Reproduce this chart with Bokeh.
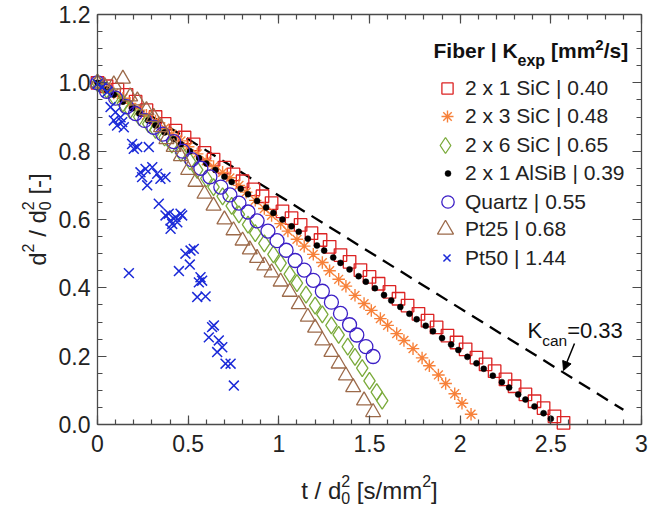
import math
from bokeh.plotting import figure
from bokeh.models import (Range1d, FixedTicker, LinearAxis, Label, Legend,
                          LegendItem, Arrow, NormalHead)
from bokeh.embed import file_html
from bokeh.resources import INLINE

# ---------------- data ----------------
sic1_t = [0.00,0.05,0.11,0.16,0.21,0.27,0.32,0.37,0.43,0.48,0.53,0.59,0.64,0.70,0.75,0.80,0.86,0.91,0.96,1.02,
          1.07,1.12,1.18,1.23,1.28,1.34,1.39,1.45,1.50,1.55,1.61,1.66,1.71,1.77,1.82,1.87,1.93,1.98,2.03,2.09,
          2.14,2.19,2.25,2.30,2.36,2.41,2.46,2.52,2.57]
sic1_d = [1.00,0.99,0.98,0.965,0.945,0.92,0.90,0.88,0.86,0.84,0.82,0.795,0.775,0.752,0.732,0.712,0.688,0.668,0.648,0.624,
          0.604,0.584,0.560,0.540,0.520,0.496,0.476,0.452,0.432,0.412,0.388,0.368,0.348,0.324,0.304,0.284,0.260,0.240,0.220,0.196,
          0.176,0.156,0.132,0.112,0.088,0.068,0.048,0.024,0.005]

sic3_t = [0.00,0.05,0.09,0.14,0.18,0.23,0.27,0.32,0.37,0.41,0.46,0.50,0.55,0.60,0.64,0.69,0.73,0.78,0.82,0.87,
          0.92,0.96,1.01,1.05,1.10,1.14,1.19,1.24,1.28,1.33,1.37,1.42,1.47,1.51,1.56,1.60,1.65,1.69,1.74,1.79,
          1.83,1.88,1.92,1.97,2.01,2.06]
sic3_d = [1.00,0.985,0.97,0.955,0.94,0.92,0.905,0.888,0.867,0.85,0.83,0.813,0.792,0.772,0.755,0.738,0.722,0.70,0.68,0.656,
          0.632,0.612,0.588,0.566,0.542,0.522,0.498,0.474,0.45,0.425,0.405,0.378,0.354,0.334,0.31,0.29,0.266,0.246,0.222,0.195,
          0.172,0.145,0.12,0.09,0.062,0.03]

sic6_t = [0.00,0.05,0.09,0.14,0.18,0.23,0.28,0.32,0.37,0.41,0.46,0.51,0.55,0.60,0.64,0.69,0.74,0.78,0.83,0.87,
          0.92,0.97,1.01,1.06,1.10,1.15,1.20,1.24,1.29,1.33,1.38,1.42,1.46,1.50,1.54,1.57]
sic6_d = [1.00,0.98,0.96,0.94,0.92,0.90,0.88,0.862,0.84,0.82,0.795,0.77,0.745,0.72,0.695,0.668,0.64,0.615,0.585,0.56,
          0.53,0.498,0.472,0.44,0.414,0.38,0.348,0.322,0.29,0.262,0.228,0.198,0.165,0.128,0.095,0.07]

alsib_t = [0.00,0.05,0.09,0.14,0.19,0.23,0.28,0.32,0.37,0.42,0.46,0.51,0.56,0.60,0.65,0.70,0.74,0.79,0.83,0.88,
           0.93,0.97,1.02,1.07,1.11,1.16,1.21,1.25,1.30,1.34,1.39,1.44,1.48,1.53,1.58,1.62,1.67,1.72,1.76,1.81,
           1.85,1.90,1.95,1.99,2.04,2.09,2.13,2.18,2.23,2.27,2.32,2.36,2.41,2.46,2.50]
alsib_d = [1.00,0.98,0.965,0.945,0.925,0.91,0.89,0.875,0.855,0.835,0.82,0.80,0.78,0.764,0.745,0.725,0.71,0.69,0.674,0.654,
           0.635,0.619,0.60,0.58,0.564,0.544,0.524,0.509,0.489,0.473,0.454,0.434,0.418,0.399,0.379,0.363,0.344,0.324,0.308,0.289,
           0.273,0.253,0.234,0.218,0.198,0.179,0.163,0.143,0.124,0.108,0.088,0.073,0.053,0.033,0.017]

quartz_t = [0.00,0.05,0.10,0.16,0.21,0.26,0.31,0.36,0.42,0.47,0.52,0.57,0.62,0.68,0.73,0.78,0.83,0.88,0.94,0.99,
            1.04,1.09,1.14,1.19,1.24,1.29,1.34,1.39,1.43,1.48,1.52]
quartz_d = [1.00,0.975,0.955,0.93,0.91,0.89,0.87,0.85,0.828,0.80,0.775,0.75,0.725,0.695,0.672,0.648,0.622,0.596,0.566,0.538,
            0.51,0.48,0.452,0.422,0.39,0.358,0.325,0.292,0.262,0.228,0.199]

pt25_t = [0.00,0.04,0.09,0.14,0.18,0.22,0.27,0.31,0.35,0.38,0.42,0.46,0.50,0.54,0.59,0.64,0.70,0.75,0.80,0.84,
          0.88,0.92,0.96,1.01,1.06,1.11,1.16,1.20,1.24,1.29,1.33,1.37,1.41,1.47,1.52]
pt25_d = [1.00,0.99,0.995,1.012,0.96,0.948,0.92,0.90,0.87,0.835,0.812,0.785,0.745,0.71,0.675,0.64,0.60,0.568,0.538,0.512,
          0.487,0.465,0.445,0.418,0.388,0.352,0.315,0.283,0.246,0.212,0.178,0.143,0.109,0.07,0.036]

pt50_t = [0.00,0.026,0.053,0.072,0.099,0.127,0.09,0.136,0.108,0.145,0.191,0.219,0.20,0.283,0.237,0.265,0.302,0.246,0.329,0.347,
          0.274,0.375,0.338,0.393,0.43,0.458,0.412,0.44,0.375,0.403,0.467,0.403,0.173,0.485,0.513,0.531,0.449,0.509,0.568,0.577,
          0.559,0.55,0.596,0.642,0.632,0.614,0.669,0.688,0.66,0.706,0.734,0.752]
pt50_d = [0.997,0.987,0.973,0.929,0.914,0.899,0.89,0.885,0.875,0.87,0.821,0.812,0.807,0.812,0.738,0.748,0.753,0.724,0.734,0.719,
          0.70,0.724,0.646,0.617,0.607,0.617,0.587,0.592,0.612,0.597,0.612,0.573,0.443,0.50,0.509,0.514,0.449,0.468,0.431,0.421,
          0.416,0.373,0.375,0.29,0.285,0.255,0.246,0.226,0.212,0.178,0.178,0.114]

kcan_t = [0.0, 2.9]
kcan_d = [1.0, 0.043]

series_labels = ["2 x 1 SiC | 0.40", "2 x 3 SiC | 0.48", "2 x 6 SiC | 0.65", "2 x 1 AlSiB | 0.39",
                 "Quartz | 0.55", "Pt25 | 0.68", "Pt50 | 1.44"]
x_ticks = [0, 0.5, 1, 1.5, 2, 2.5, 3]
x_tick_labels = ["0", "0.5", "1", "1.5", "2", "2.5", "3"]
y_ticks = [0, 0.2, 0.4, 0.6, 0.8, 1.0, 1.2]
y_tick_labels = ["0.0", "0.2", "0.4", "0.6", "0.8", "1.0", "1.2"]
x_minor = [i / 10 for i in range(31)]
y_minor = [i / 20 for i in range(25)]

# ---------------- layout ----------------
FONT = "Liberation Sans"
AX = "#4a4a4a"
TXT = "#222222"
W, H = 648, 509
FL, FR, FT, FB = 97, 641, 14, 424   # axes box in canvas pixels
X0, X1, Y0, Y1 = 0.0, 3.0, 0.0, 1.2

def dx(px):
    return X0 + (px - FL) / (FR - FL) * (X1 - X0)

def dy(py):
    return Y0 + (FB - py) / (FB - FT) * (Y1 - Y0)

# the frame spans the whole canvas; the visible box is drawn by axes at fixed locations
p = figure(width=W, height=H, x_range=Range1d(dx(0), dx(W)), y_range=Range1d(dy(H), dy(0)),
           output_backend="svg", toolbar_location=None,
           min_border_left=0, min_border_right=0, min_border_top=0, min_border_bottom=0)
p.grid.visible = False
p.outline_line_color = None
p.background_fill_color = "white"
p.border_fill_color = "white"

def style_axis(ax, ticks, minor, labels, show, loc, bounds):
    ax.fixed_location = loc
    ax.bounds = bounds
    ax.ticker = FixedTicker(ticks=ticks, minor_ticks=minor)
    ax.axis_line_color = AX
    ax.axis_line_width = 1.3
    ax.major_tick_in = 9
    ax.major_tick_out = 0
    ax.minor_tick_in = 5
    ax.minor_tick_out = 0
    ax.major_tick_line_color = AX
    ax.minor_tick_line_color = AX
    ax.major_tick_line_width = 1.2
    ax.minor_tick_line_width = 1.2
    ax.major_label_text_font = FONT
    ax.major_label_text_font_size = "23px"
    ax.major_label_text_color = TXT
    if show:
        ax.major_label_overrides = {t: l for t, l in zip(ticks, labels)}
    else:
        ax.major_label_overrides = {t: "" for t in ticks}

style_axis(p.xaxis[0], x_ticks, x_minor, x_tick_labels, True, Y0, (X0, X1))
style_axis(p.yaxis[0], y_ticks, y_minor, y_tick_labels, True, X0, (Y0, Y1))
p.xaxis[0].major_label_standoff = 10
p.yaxis[0].major_label_standoff = 7
top_ax = LinearAxis()
right_ax = LinearAxis()
style_axis(top_ax, x_ticks, x_minor, x_tick_labels, False, Y1, (X0, X1))
style_axis(right_ax, y_ticks, y_minor, y_tick_labels, False, X1, (Y0, Y1))
p.add_layout(top_ax, "above")
p.add_layout(right_ax, "right")

# ---------------- data glyphs ----------------
p.line(kcan_t, kcan_d, line_color="black", line_width=2.3, line_dash="13 8")

r_sic1 = p.scatter(sic1_t, sic1_d, marker="square", size=12.5, fill_color=None,
                   line_color="#dc2323", line_width=1.3)
r_sic3 = p.scatter(sic3_t, sic3_d, marker="asterisk", size=12.5,
                   line_color="#f7813a", line_width=1.4)
r_sic6 = p.scatter(sic6_t, sic6_d, marker="diamond", size=17, fill_color=None,
                   line_color="#7aaa3a", line_width=1.3)
r_alsib = p.scatter(alsib_t, alsib_d, marker="circle", size=6, fill_color="black",
                    line_color="black", line_width=0.5)
r_quartz = p.scatter(quartz_t, quartz_d, marker="circle", size=14, fill_color=None,
                     line_color="#3c1fc6", line_width=1.3)
r_pt25 = p.scatter(pt25_t, pt25_d, marker="triangle", size=15, fill_color=None,
                   line_color="#9c6a4a", line_width=1.3)
r_pt50 = p.scatter(pt50_t, pt50_d, marker="x", size=14, line_color="#1b2ad8", line_width=1.5)

# ---------------- legend (one per row so marker sizes can differ) ----------------
renderers = [r_sic1, r_sic3, r_sic6, r_alsib, r_quartz, r_pt25, r_pt50]
legend_glyph = [(28, 28), (30, 30), (40, 40), (15, 24), (31, 31), (40, 40), (25, 25)]
row_y = [88.3, 116.5, 144.5, 172.5, 201.0, 229.0, 257.3]
GLYPH_CX, LABEL_X, FONT_H = 447, 465, 24
for r, lab, (gw, gh), ry in zip(renderers, series_labels, legend_glyph, row_y):
    h = max(gh, FONT_H)
    cx = min(GLYPH_CX, LABEL_X - gw / 2)
    bottom = ry + h / 2
    leg = Legend(items=[LegendItem(label=lab, renderers=[r])],
                 location=(round(cx - gw / 2), round(H - bottom)),
                 glyph_width=gw, glyph_height=gh, label_height=gh,
                 label_standoff=max(0, round(LABEL_X - (cx + gw / 2))),
                 label_text_font=FONT, label_text_font_size="21px", label_text_color=TXT,
                 padding=0, margin=0, spacing=0, border_line_color=None,
                 background_fill_alpha=0)
    p.add_layout(leg)

# ---------------- rich texts (super/subscripts as separate text pieces) ----------------
REG = {' ': 278, '/': 278, 't': 278, 'd': 556, '0': 556, '2': 556, '[': 278, ']': 278, 's': 500,
       'm': 833, '-': 333, 'K': 667, 'c': 500, 'a': 556, 'n': 556, '=': 584, '.': 278, '3': 556}
BOLD = {'F': 611, 'i': 278, 'b': 611, 'e': 556, 'r': 389, ' ': 278, '|': 280, 'K': 722, 'x': 556,
        'p': 611, '[': 333, 'm': 889, '2': 556, '/': 278, 's': 556, ']': 333}

def text_width(s, size, bold):
    tab = BOLD if bold else REG
    return sum(tab.get(ch, 556) for ch in s) * size / 1000.0

def rich(pieces, px, py, vertical=False, bold=False, color=TXT):
    """pieces: (text, size, baseline shift px, advances)"""
    pos = 0.0
    for text, size, shift, adv in pieces:
        stripped = text.lstrip(" ")
        lead = text_width(text[:len(text) - len(stripped)], size, bold)
        start = pos + lead
        if vertical:
            x, y, ang = px + shift, py - start, math.pi / 2
        else:
            x, y, ang = px + start, py + shift, 0.0
        p.add_layout(Label(x=dx(x), y=dy(y), text=stripped, text_font=FONT,
                           text_font_size=f"{size}px",
                           text_font_style="bold" if bold else "normal",
                           text_color=color, text_baseline="alphabetic",
                           text_align="left", angle=ang))
        if adv:
            pos += text_width(text, size, bold)

def total_width(pieces, bold=False):
    return sum(text_width(t, s, bold) for t, s, _, a in pieces if a)

# x axis title: t / d0^2 [s/mm^2]
xt = [("t / d", 24, 0, True), ("0", 16, 7, False), ("2", 16, -10, True),
      (" [s/mm", 24, 0, True), ("2", 16, -10, True), ("]", 24, 0, True)]
rich(xt, (FL + FR) / 2 - total_width(xt) / 2, 490)

# y axis title: d^2 / d0^2 [-]
yt = [("d", 24, 0, True), ("2", 16, -10, True), (" / d", 24, 0, True),
      ("0", 16, 7, False), ("2", 16, -10, True), (" [-]", 24, 0, True)]
rich(yt, 37, (FT + FB) / 2 + total_width(yt) / 2, vertical=True)

# legend title: Fiber | K_exp [mm^2/s]
lt = [("Fiber | K", 21, 0, True), ("exp", 16, 10, True), (" [mm", 21, 0, True),
      ("2", 15, -5, True), ("/s]", 21, 0, True)]
rich(lt, 433, 49.5, bold=True, color="#111111")

# K_can annotation
rich([("K", 22, 0, True), ("can", 15.5, 10, True), ("=0.33", 22, 0, True)], 527, 329.5,
     color="#111111")
p.add_layout(Arrow(end=NormalHead(size=9, fill_color="black", line_color="black", line_width=1),
                   x_start=dx(574), y_start=dy(343), x_end=dx(563), y_end=dy(370),
                   line_color="black", line_width=1.5))

open("out.html", "w").write(file_html(p, INLINE))
